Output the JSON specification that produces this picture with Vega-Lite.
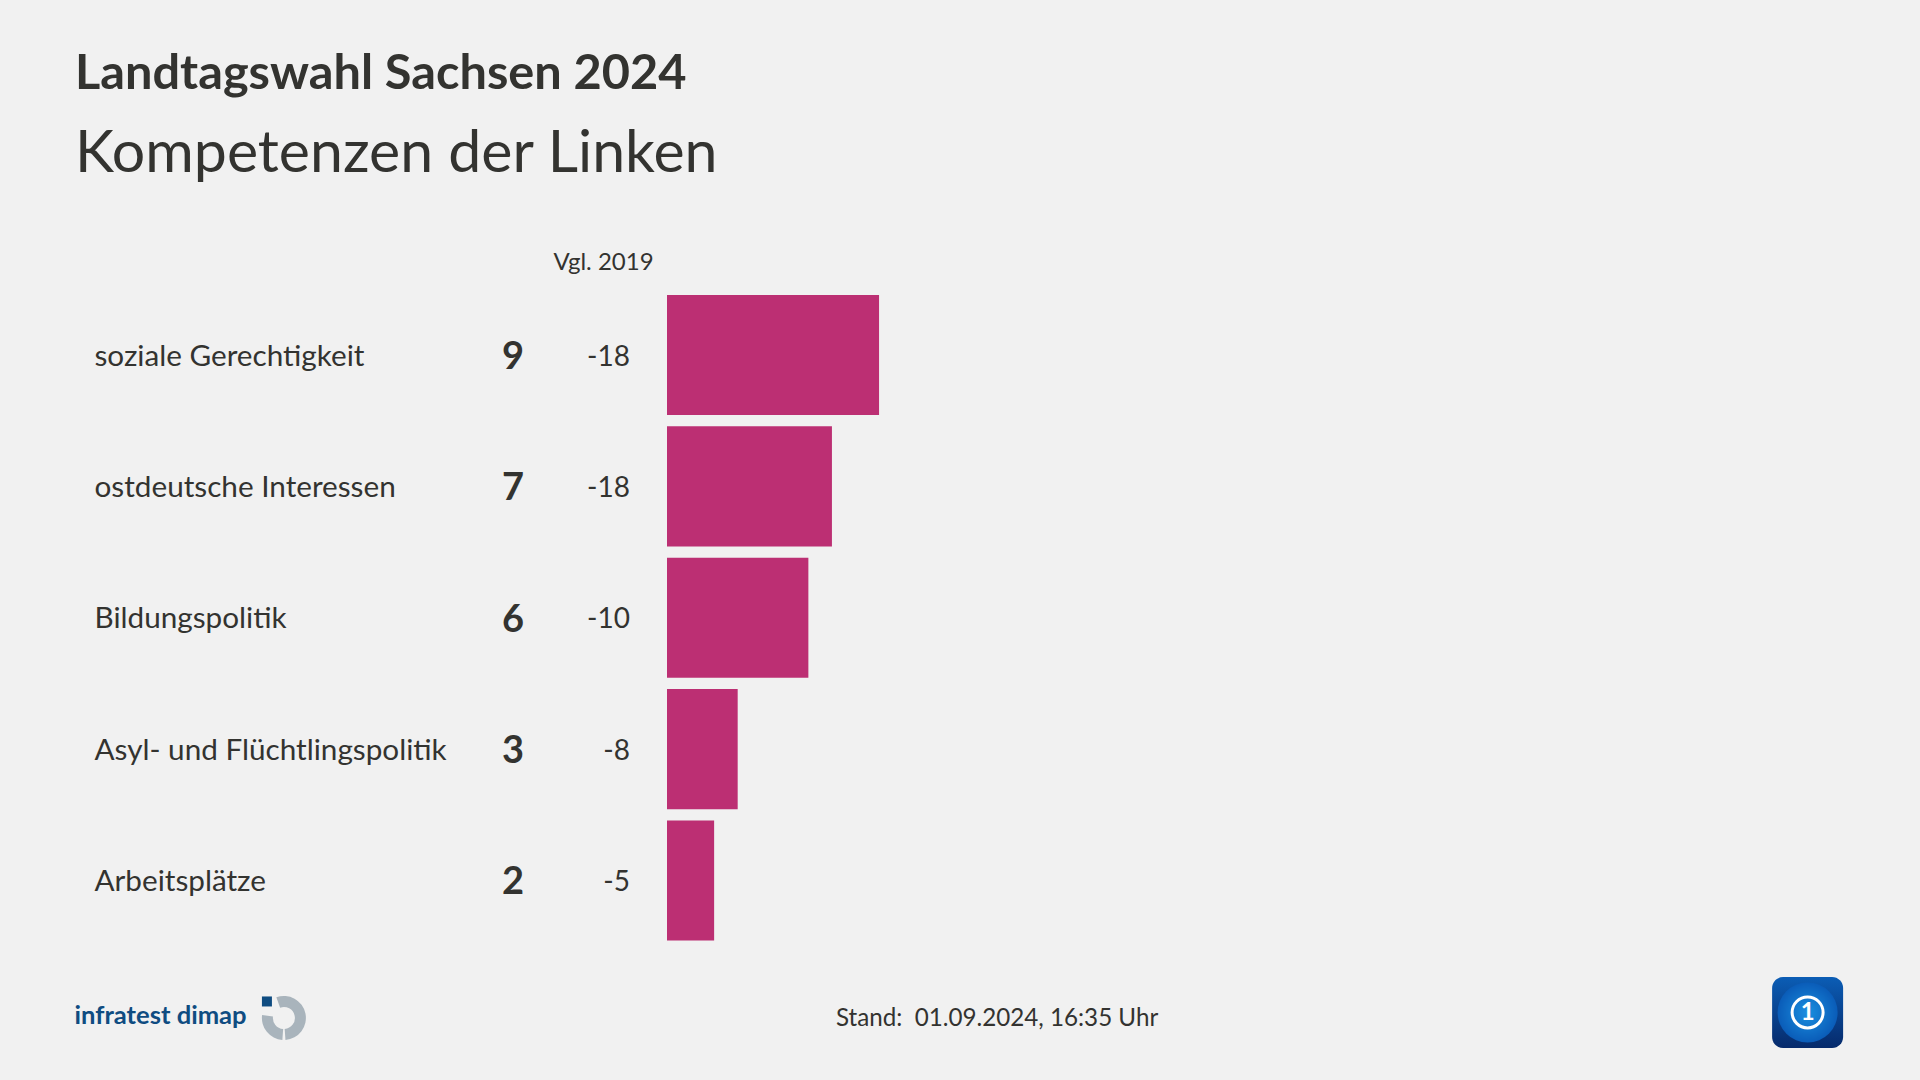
{
"$schema":"https://vega.github.io/schema/vega-lite/v6.json",
"background":"#f1f1f1",
"autosize":{"type":"none"},
"padding":{"left":667,"top":295,"right":0,"bottom":140},
"width":1253,"height":645.5,
"title":{"text":"Landtagswahl Sachsen 2024","subtitle":"Kompetenzen der Linken","anchor":"start","frame":"group","dx":-592,"offset":65,"font":"Lato","fontSize":48.7,"fontWeight":"bold","color":"#333330","subtitleFont":"Lato","subtitleFontSize":59,"subtitleColor":"#333330","subtitlePadding":25},
"data":{"values":[
{"thema":"soziale Gerechtigkeit","anteil":9,"vergleich":"-18"},
{"thema":"ostdeutsche Interessen","anteil":7,"vergleich":"-18"},
{"thema":"Bildungspolitik","anteil":6,"vergleich":"-10"},
{"thema":"Asyl- und Flüchtlingspolitik","anteil":3,"vergleich":"-8"},
{"thema":"Arbeitsplätze","anteil":2,"vergleich":"-5"}
]},
"encoding":{
"y":{"field":"thema","type":"nominal","sort":null,"scale":{"paddingInner":0.086,"paddingOuter":0},
"axis":{"orient":"left","domain":false,"ticks":false,"labelAlign":"left","labelPadding":573,"labelFont":"Lato","labelFontSize":29.7,"labelColor":"#333330","labelLimit":500,"labelOffset":1.5,
"title":"infratest dimap","titleFont":"Lato","titleFontSize":25.6,"titleFontWeight":"bold","titleColor":"#0f4c81","titleAngle":0,"titleAlign":"left","titleBaseline":"alphabetic","titleX":-593,"titleY":728}}
},
"resolve":{"axis":{"x":"independent"}},
"layer":[
{"mark":{"type":"bar","color":"#bc2f73","cornerRadius":0},
"encoding":{"x":{"field":"anteil","type":"quantitative","scale":{"domain":[0,53.18],"nice":false,"zero":false},
"axis":{"orient":"top","domain":false,"ticks":false,"labels":false,"grid":false,"title":"Vgl. 2019","titleFont":"Lato","titleFontSize":24,"titleFontWeight":"normal","titleColor":"#333330","titleAlign":"left","titleBaseline":"alphabetic","titleX":-114,"titleY":-26}}}},
{"mark":{"type":"text","align":"right","baseline":"middle","xOffset":-143,"yOffset":3,"font":"Lato","fontSize":38,"fontWeight":"bold","color":"#333330"},
"encoding":{"x":{"datum":0,"type":"quantitative","axis":null},"text":{"field":"anteil"}}},
{"mark":{"type":"text","align":"right","baseline":"middle","xOffset":-37,"yOffset":2.5,"font":"Lato","fontSize":28,"color":"#333330"},
"encoding":{"x":{"datum":0,"type":"quantitative","axis":null},"text":{"field":"vergleich"}}},
{"data":{"values":[{"stand":"Stand:\u00a0 01.09.2024, 16:35 Uhr"}]},
"layer":[
{"mark":{"type":"text","align":"left","baseline":"alphabetic","yOffset":146,"font":"Lato","fontSize":24.2,"color":"#333330"},
"encoding":{"x":{"datum":7.17,"type":"quantitative","axis":null},"y":{"datum":"Arbeitsplätze","bandPosition":0.5},"text":{"field":"stand"}}},
{"mark":{"type":"arc","innerRadius":11,"outerRadius":22,"theta":-0.35,"theta2":3.07,"color":"#a9b4bc","yOffset":137.5},
"encoding":{"x":{"datum":-16.26,"type":"quantitative","axis":null},"y":{"datum":"Arbeitsplätze","bandPosition":0.5}}},
{"mark":{"type":"arc","innerRadius":11,"outerRadius":22,"theta":3.21,"theta2":4.85,"color":"#a9b4bc","yOffset":137.5},
"encoding":{"x":{"datum":-16.26,"type":"quantitative","axis":null},"y":{"datum":"Arbeitsplätze","bandPosition":0.5}}},
{"mark":{"type":"rect","width":10,"height":10,"color":"#0f4c81","yOffset":121},
"encoding":{"x":{"datum":-16.98,"type":"quantitative","axis":null},"y":{"datum":"Arbeitsplätze","bandPosition":0.5}}},
{"mark":{"type":"rect","width":71,"height":71,"cornerRadius":11,"yOffset":132,"color":{"gradient":"linear","x1":0,"y1":0,"x2":0,"y2":1,"stops":[{"offset":0,"color":"#0b5db5"},{"offset":1,"color":"#062a6b"}]}},
"encoding":{"x":{"datum":48.41,"type":"quantitative","axis":null},"y":{"datum":"Arbeitsplätze","bandPosition":0.5}}},
{"mark":{"type":"arc","innerRadius":0,"outerRadius":30,"theta":0,"theta2":6.2832,"yOffset":132,"color":{"gradient":"radial","x1":0.5,"y1":0.5,"r1":0,"x2":0.5,"y2":0.5,"r2":0.5,"stops":[{"offset":0,"color":"#1a8fe0"},{"offset":1,"color":"#0a5cb8"}]}},
"encoding":{"x":{"datum":48.41,"type":"quantitative","axis":null},"y":{"datum":"Arbeitsplätze","bandPosition":0.5}}},
{"mark":{"type":"arc","innerRadius":14,"outerRadius":17,"theta":0,"theta2":6.2832,"yOffset":132,"color":"#ffffff"},
"encoding":{"x":{"datum":48.41,"type":"quantitative","axis":null},"y":{"datum":"Arbeitsplätze","bandPosition":0.5}}},
{"mark":{"type":"text","text":"1","align":"center","baseline":"middle","yOffset":133,"font":"Lato","fontWeight":"bold","fontSize":24,"color":"#ffffff"},
"encoding":{"x":{"datum":48.41,"type":"quantitative","axis":null},"y":{"datum":"Arbeitsplätze","bandPosition":0.5}}}
]}
],
"config":{"view":{"stroke":null},"axis":{"grid":false}}
}
